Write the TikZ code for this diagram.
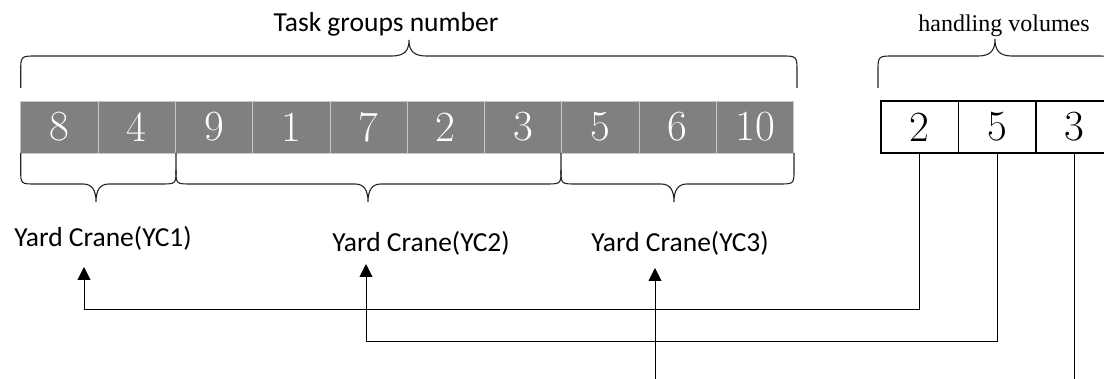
\documentclass[tikz,border=0pt]{standalone}
\usepackage{fontspec}
\newfontfamily\carlito{Carlito}
\newfontfamily\timesf{Liberation Serif}
\usetikzlibrary{arrows.meta}
\definecolor{cellgray}{RGB}{128,128,128}
\definecolor{celledge}{RGB}{200,200,200}
\begin{document}
\begin{tikzpicture}[x=1pt,y=-1pt,
  gcell/.style={draw=celledge, fill=cellgray, line width=0.8pt, minimum width=77.3pt, minimum height=52pt, inner sep=0pt, text=white, font=\fontsize{43}{43}\selectfont},
  wcell/.style={draw=black, line width=1.2pt, minimum width=77.5pt, minimum height=52pt, inner sep=0pt, font=\fontsize{43}{43}\selectfont},
  brace/.style={draw=black!85, line width=1.1pt},
  lbl/.style={font=\carlito\fontsize{27.5}{30}\selectfont, inner sep=0pt, anchor=base},
  arr/.style={draw=black, line width=1pt, -{Triangle[width=13pt,length=13pt]}},
  ln/.style={draw=black, line width=1pt}]
\useasboundingbox (0,0) rectangle (1104,379);
\clip (0,0) rectangle (1104,379);
\fill[white] (0,0) rectangle (1104,379);

% task group cells
\foreach \v [count=\i] in {8,4,9,1,7,2,3,5,6,10}
  \node[gcell] (g\i) at ({20.7+77.3*(\i-0.5)},127) {\v};

% handling volume cells
\foreach \v [count=\i] in {2,5,3}
  \node[wcell] (v\i) at ({881+77.5*(\i-0.5)},127) {\v};

% top braces
\draw[brace] (20.7,88) -- (20.7,72) .. controls (20.7,56) .. (36.7,56) -- (392,56)
  .. controls (405,56) and (409,50) .. (409,40)
  .. controls (409,50) and (413,56) .. (426,56) -- (781,56)
  .. controls (797,56) .. (797,72) -- (797,88);
\draw[brace] (878,88) -- (878,72) .. controls (878,56) .. (894,56) -- (978,56)
  .. controls (991,56) and (995,50) .. (995,39)
  .. controls (995,50) and (999,56) .. (1012,56) -- (1096,56)
  .. controls (1112,56) .. (1112,72) -- (1112,88);

% lower braces
\draw[brace] (20.7,153) -- (20.7,170) .. controls (20.7,184) .. (36,184) -- (83,184)
  .. controls (92,184) and (96,190) .. (96,202)
  .. controls (96,190) and (100,184) .. (109,184) -- (160,184)
  .. controls (176,184) .. (176,170) -- (176,153);
\draw[brace] (176,170) .. controls (176,184) .. (192,184) -- (355,184)
  .. controls (364,184) and (368,190) .. (368,202)
  .. controls (368,190) and (372,184) .. (381,184) -- (545,184)
  .. controls (561,184) .. (561,170) -- (561,153);
\draw[brace] (561,170) .. controls (561,184) .. (577,184) -- (661,184)
  .. controls (670,184) and (674,190) .. (674,202)
  .. controls (674,190) and (678,184) .. (687,184) -- (778,184)
  .. controls (794,184) .. (794,170) -- (794,153);

% labels
\node[lbl] (tgn) at (386,32) {Task groups number};
\node[lbl, font=\timesf\fontsize{24}{26}\selectfont] (hv) at (1004,32) {handling volumes};
\node[lbl] (yc1) at (103,247) {Yard Crane(YC1)};
\node[lbl] (yc2) at (421,252) {Yard Crane(YC2)};
\node[lbl] (yc3) at (680,252) {Yard Crane(YC3)};

% connectors
\coordinate (t1) at (84,267);
\coordinate (h1) at (84,310);
\draw[arr] (v1.south) |- (h1) -- (t1);
\coordinate (t2) at (366,264);
\coordinate (h2) at (366,342);
\draw[arr] (v2.south) |- (h2) -- (t2);
\coordinate (e3) at (1075,379);
\draw[ln] (v3.south) -- (v3.south |- e3);
\coordinate (s3) at (655,379);
\coordinate (t3) at (655,268);
\draw[arr] (s3) -- (t3);
\end{tikzpicture}
\end{document}
